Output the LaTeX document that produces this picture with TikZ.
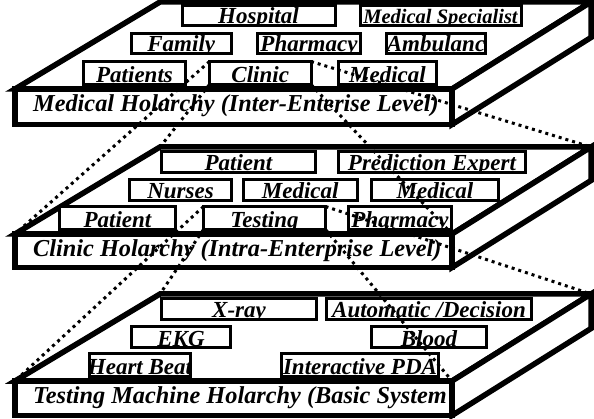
\documentclass[tikz,border=0pt]{standalone}
\usepackage{fontspec}
\setmainfont{Liberation Serif}

% one holarchy level: top face, side face and named corner points
% #1 prefix, #2 y of front top edge, #3 y of front bottom edge
\newcommand\holarchylevel[3]{%
  \path[face] (15,#2) -- (160,#2-87) -- (591,#2-87) -- (452,#2) -- cycle;
  \path[face] (452,#2) -- (591,#2-87) -- (591,#3-87) -- (452,#3) -- cycle;
  \coordinate (#1fl) at (15,#2);
  \coordinate (#1bl) at (160,#2-87);
  \coordinate (#1br) at (591,#2-87);
  \coordinate (#1fr) at (452,#2);
}

% front plate of a level with its title
% #1 prefix, #2 top, #3 bottom, #4 title
\newcommand\holarchyfront[4]{%
  \node[frontplate, minimum width=437, minimum height={#3-#2}]
    (#1front) at (233.5,{(#2+#3)/2}) {};
  \node[flabel] (#1title) at (33,#2+22.5) {#4};
}

% a holon box whose label is cut off by the box outline
% #1 name, #2 x1, #3 y1, #4 x2, #5 y2, #6 baseline lift, #7 text
\newcommand\holon[7]{%
  \node[hbox, minimum width={#4-#2}, minimum height={#5-#3}]
    (#1) at ({(#2+#4)/2},{(#3+#5)/2}) {};
  \begin{scope}
    \clip (#1.south west) rectangle (#1.north east);
    \node[hlabel] at ([yshift=#6pt]#1.south) {#7};
  \end{scope}
  \draw[hline] (#1.south west) rectangle (#1.north east);
}

\begin{document}
\begin{tikzpicture}[x=1pt,y=-1pt,
  face/.style={draw=black, line width=5.5pt, fill=white, line join=miter},
  frontplate/.style={draw=black, line width=5.5pt, fill=white,
    inner sep=0pt, outer sep=0pt},
  hbox/.style={fill=white, inner sep=0pt, outer sep=0pt},
  hline/.style={draw=black, line width=3pt},
  hlabel/.style={font=\fontsize{23}{23}\selectfont\bfseries\itshape,
    inner sep=0pt, anchor=base},
  flabel/.style={font=\fontsize{24.3}{24.3}\selectfont\bfseries\itshape,
    inner sep=0pt, anchor=base west},
  link/.style={draw=black, line width=3pt, dash pattern=on 3pt off 4pt}]

\useasboundingbox (0,0) rectangle (594,419);

% ---------------- Medical holarchy ----------------
\holarchylevel{med}{89}{124.5}
\holon{hospital}{182}{6}{335}{25.5}{1.5}{Hospital}
\holon{specialist}{360}{6}{521}{25.5}{1.5}{\fontsize{20.5}{20.5}\selectfont Medical Specialist}
\holon{family}{131.5}{33.5}{231}{53.5}{1.5}{Family}
\holon{pharmacyA}{257.5}{33.5}{360.5}{53.5}{1.5}{Pharmacy}
\holon{ambulance}{386.5}{33.5}{485.5}{53.5}{1.5}{Ambulanc}
\holon{patients}{83.5}{61.5}{185.5}{84.5}{2}{Patients}
\holon{clinic}{209.5}{61.5}{311}{84.5}{2}{Clinic}
\holon{medicalA}{338.5}{61.5}{436.5}{84.5}{2}{Medical}
\holarchyfront{med}{89}{124.5}{Medical Holarchy (Inter-Enterise Level)}

% ---------------- Clinic holarchy ----------------
\holarchylevel{cli}{234}{267.5}
\holon{patientB}{161.5}{151.5}{315.5}{172.5}{1.5}{Patient}
\holon{prediction}{338.5}{151.5}{525.5}{172.5}{1.5}{Prediction Expert}
\holon{nurses}{129.5}{179.5}{231.5}{200.5}{1.5}{Nurses}
\holon{medicalB}{243.5}{179.5}{357}{200.5}{1.5}{Medical}
\holon{medicalC}{371.5}{179.5}{498.5}{200.5}{1.5}{Medical}
\holon{patientC}{59.5}{206.5}{175.5}{229.5}{2}{Patient}
\holon{testing}{203.5}{206.5}{325.5}{229.5}{2}{Testing}
\holon{pharmacyB}{348.5}{206.5}{451.5}{229.5}{2}{Pharmacy}
\holarchyfront{cli}{234}{267.5}{Clinic Holarchy (Intra-Enterprise Level)}

% ---------------- Testing machine holarchy ----------------
\holarchylevel{tst}{381}{415.5}
\holon{xray}{161.5}{298.5}{316.5}{319.5}{1.5}{X-ray}
\holon{decision}{326.5}{298.5}{531.5}{319.5}{1.5}{Automatic /Decision}
\holon{ekg}{131.5}{326.5}{230.5}{347.5}{1.5}{EKG}
\holon{blood}{371.5}{326.5}{486.5}{347.5}{1.5}{Blood}
\holon{heartbeat}{89.5}{353.5}{190.5}{376.5}{2}{Heart Beat}
\holon{pda}{281.5}{353.5}{438.5}{376.5}{2}{Interactive PDA}
\holarchyfront{tst}{381}{415.5}{Testing Machine Holarchy (Basic System}

% ---------------- zoom lines between levels ----------------
\draw[link] (clinic.north west) -- (clifl);
\draw[link] (clinic.south west) -- (clibl);
\draw[link] (clinic.north east) -- (clibr);
\draw[link] (clinic.south east) -- (clifr);
\draw[link] (testing.north west) -- (tstfl);
\draw[link] (testing.south west) -- (tstbl);
\draw[link] (testing.north east) -- (tstbr);
\draw[link] (testing.south east) -- (tstfr);

\end{tikzpicture}
\end{document}
